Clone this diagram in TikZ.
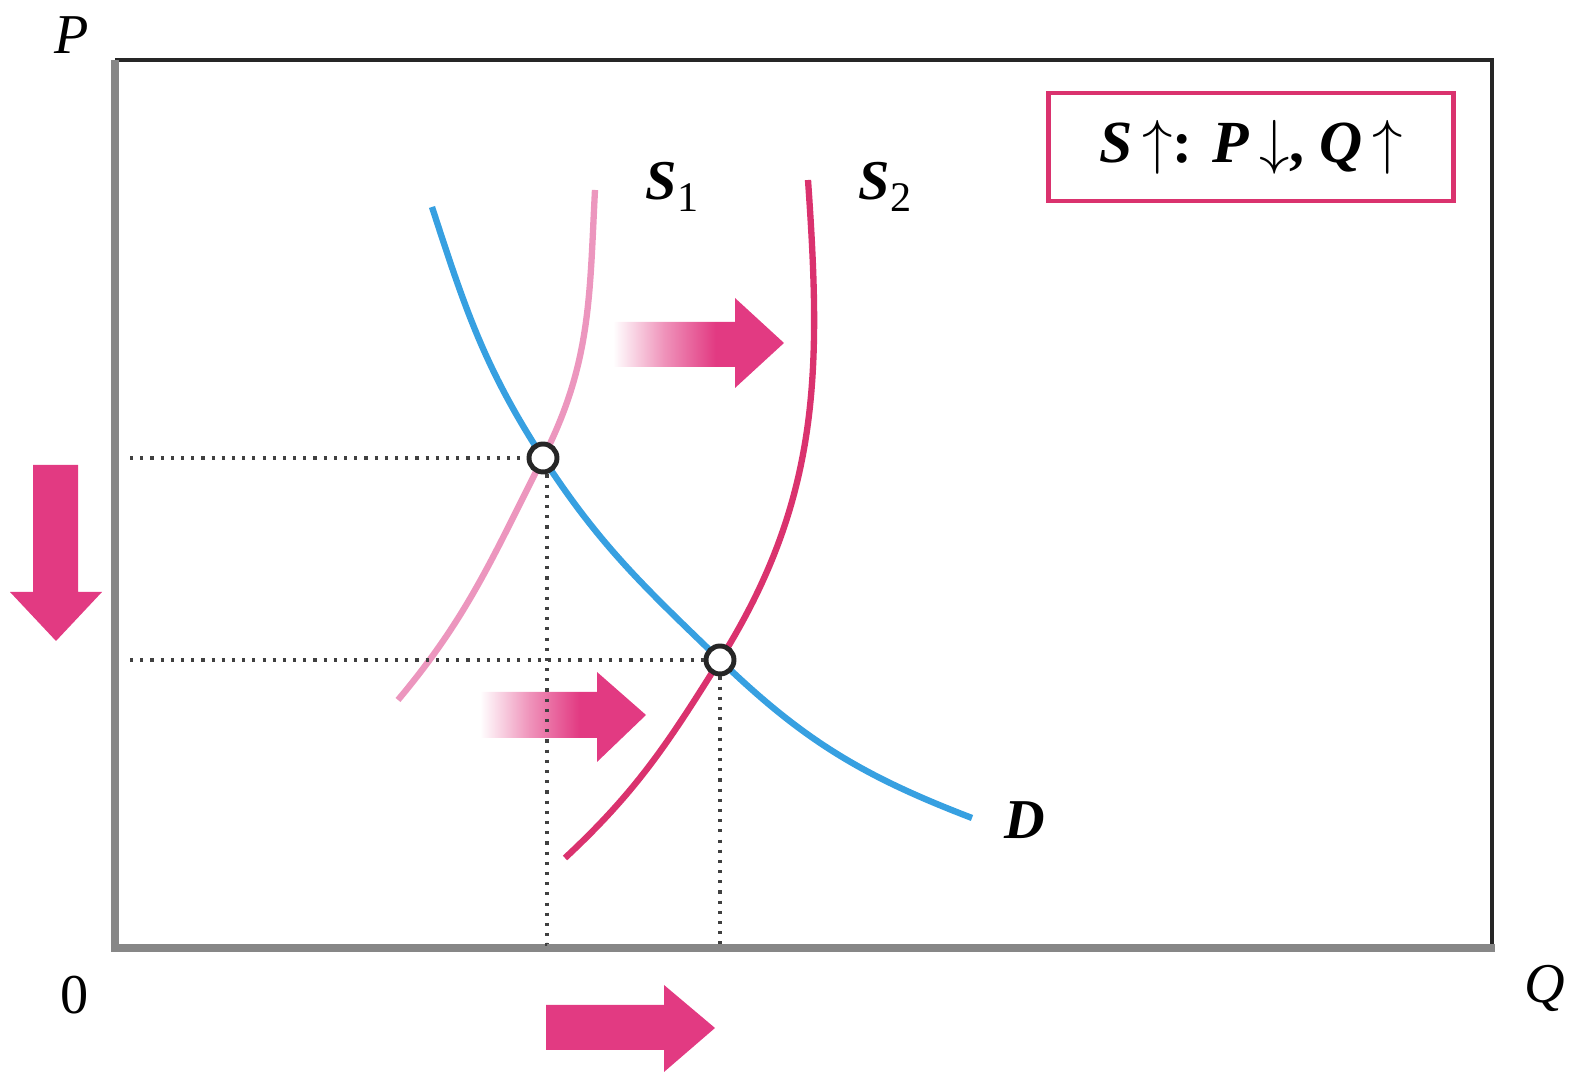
\documentclass[tikz,border=0pt]{standalone}
\usepackage{fontspec}
\setmainfont{Liberation Serif}
\usepackage{tikz}
\definecolor{dblue}{RGB}{55,160,225}
\definecolor{spink}{RGB}{218,50,110}
\definecolor{slight}{RGB}{236,150,190}
\definecolor{apink}{RGB}{226,58,130}
\definecolor{axgray}{RGB}{135,135,135}
\pgfdeclarehorizontalshading{fadepink}{100bp}{color(0bp)=(white); color(25bp)=(white); color(40bp)=(apink!55); color(55bp)=(apink); color(100bp)=(apink)}
\newcommand{\sub}[1]{\raisebox{-0.45ex}{\fontsize{12}{14}\selectfont\upshape\mdseries #1}}
\tikzset{
  curve/.style={line width=1.8pt},
  eq/.style={circle,draw=black!85,fill=white,line width=1.4pt,minimum size=0.28cm,inner sep=0pt},
  guide/.style={dotted,line width=0.9pt,black!75},
  lbl/.style={font=\fontsize{16}{18}\selectfont\bfseries\itshape,inner sep=0pt},
  axlbl/.style={font=\fontsize{16}{18}\selectfont\itshape,inner sep=0pt}
}
\begin{document}
\begin{tikzpicture}
\useasboundingbox (0,0) rectangle (15.69,10.74);
% frame
\draw[black!85,line width=1pt] (1.15,10.14) -- (14.92,10.14) -- (14.92,1.26);
\draw[axgray,line width=2.3pt] (1.15,10.14) -- (1.15,1.26) -- (14.95,1.26);
\node[axlbl] (P) at (0.72,10.39) {P};
\node[axlbl] (Q) at (15.45,0.86) {Q};
\node[font=\fontsize{16}{18}\selectfont,inner sep=0pt] (O) at (0.75,0.79) {0};
% shift arrows
\shade[shading=fadepink] (6.13,7.52) -- (7.35,7.52) -- (7.35,7.76) -- (7.84,7.31) -- (7.35,6.86) -- (7.35,7.07) -- (6.13,7.07) -- cycle;
\shade[shading=fadepink] (4.80,3.82) -- (5.97,3.82) -- (5.97,4.02) -- (6.46,3.59) -- (5.97,3.12) -- (5.97,3.36) -- (4.80,3.36) -- cycle;
\fill[apink] (0.33,6.09) -- (0.78,6.09) -- (0.78,4.82) -- (1.02,4.82) -- (0.56,4.33) -- (0.10,4.82) -- (0.33,4.82) -- cycle;
\fill[apink] (5.46,0.69) -- (6.64,0.69) -- (6.64,0.89) -- (7.15,0.46) -- (6.64,0.02) -- (6.64,0.24) -- (5.46,0.24) -- cycle;
% equilibria
\coordinate (e1c) at (5.43,6.16);
\coordinate (e2c) at (7.20,4.14);
% curves
\draw[curve,slight] (3.98,3.74) to[out=50,in=-117] (e1c) to[out=63,in=-93] (5.95,8.84);
\draw[curve,spink] (5.65,2.16) to[out=43,in=-122] (e2c) to[out=58,in=-86] (8.08,8.94);
\draw[curve,dblue] (4.32,8.67) to[out=-72,in=123] (e1c) to[out=-57,in=136] (e2c) to[out=-44,in=159] (9.72,2.56);
\node[lbl] (s1) at (6.72,8.87) {S\sub{1}};
\node[lbl] (s2) at (8.85,8.87) {S\sub{2}};
\node[lbl] (d) at (10.25,2.54) {D};
\coordinate (p1) at (1.30,6.16);
\coordinate (p2) at (1.30,4.14);
\coordinate (q1) at (5.47,1.30);
\coordinate (q2) at (7.20,1.30);
\node[eq] (e1) at (e1c) {};
\node[eq] (e2) at (e2c) {};
\draw[guide] (p1) -- (e1.west);
\draw[guide] (p2) -- (e2.west);
\draw[guide] (e1.south) ++(0.04,0) |- (q1);
\draw[guide] (e2.south) -- (q2);
\node[draw=spink,line width=1.3pt,minimum width=4.05cm,minimum height=1.08cm,
  font=\fontsize{17}{19}\selectfont] (rule) at (12.51,9.27)
  {\textbf{\textit{S}}\,$\uparrow$\textbf{:} \textbf{\textit{P}}\,$\downarrow$\textbf{,} \textbf{\textit{Q}}\,$\uparrow$};
\end{tikzpicture}
\end{document}
